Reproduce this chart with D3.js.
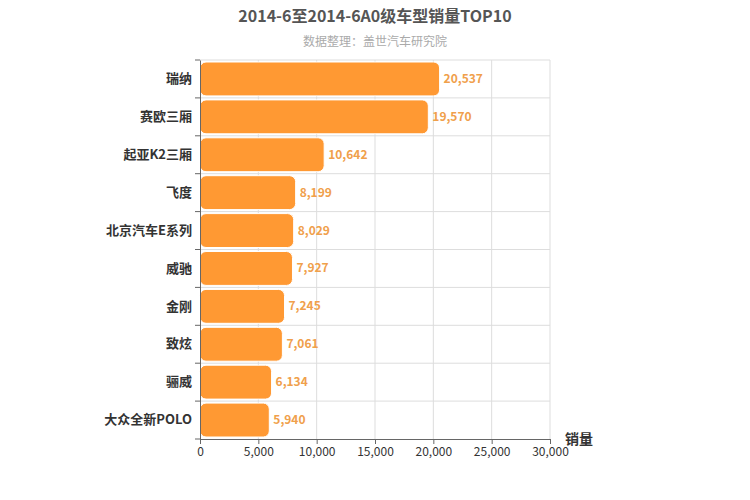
<!DOCTYPE html><html><head><meta charset="utf-8"><script src="https://d3js.org/d3.v7.min.js"></script>
<style>body{margin:0;background:#fff}text{font-family:"Noto Sans CJK SC",sans-serif}</style></head><body><svg width="750" height="500"></svg><script>
const categories=["瑞纳","赛欧三厢","起亚K2三厢","飞度","北京汽车E系列","威驰","金刚","致炫","骊威","大众全新POLO"];
const values=[20537,19570,10642,8199,8029,7927,7245,7061,6134,5940];
const ticks=[0,5000,10000,15000,20000,25000,30000];
const svg=d3.select("svg");
const L=200,R=550,T=60,B=439;
const x=d3.scaleLinear().domain([0,30000]).range([L,R]);
const y=d3.scaleBand().domain(categories).range([T,B]);
const g=svg.append("g");
// grid
g.selectAll(".vg").data(ticks.slice(1)).join("line").attr("x1",d=>x(d)).attr("x2",d=>x(d)).attr("y1",T).attr("y2",B).attr("stroke","#ddd");
g.selectAll(".hg").data(categories).join("line").attr("x1",L).attr("x2",R).attr("y1",d=>y(d)).attr("y2",d=>y(d)).attr("stroke","#ddd");
// bars
g.selectAll(".b").data(values).join("rect").attr("x",L).attr("y",(d,i)=>y(categories[i])+2).attr("height",y.bandwidth()-4).attr("width",d=>x(d)-L).attr("rx",6).attr("fill","#FF9933").attr("stroke","#fff").attr("stroke-width",1);
g.selectAll(".l").data(values).join("text").attr("x",d=>x(d)+4).attr("y",(d,i)=>y(categories[i])+y.bandwidth()/2+4).attr("fill","#F0A04B").attr("font-size",12).attr("font-weight","bold").text(d=>d3.format(",")(d));
// axes
const xa=svg.append("g").attr("transform",`translate(0,${B})`).call(d3.axisBottom(x).tickValues(ticks).tickFormat(d3.format(",")).tickSize(5));
xa.select(".domain").attr("stroke","#666");xa.selectAll("line").attr("stroke","#666");
xa.selectAll("text").attr("fill","#333").attr("font-size",12).attr("font-family","Noto Sans CJK SC,sans-serif");
const ya=svg.append("g").attr("transform",`translate(${L},0)`).call(d3.axisLeft(y).tickSize(0).tickPadding(8));
ya.select(".domain").attr("stroke","#666");
ya.selectAll("text").attr("fill","#333").attr("font-size",13).attr("font-weight","bold").attr("font-family","Noto Sans CJK SC,sans-serif");
svg.append("g").selectAll("line").data(d3.range(categories.length+1)).join("line").attr("x1",L-5).attr("x2",L).attr("y1",i=>T+i*y.step()).attr("y2",i=>T+i*y.step()).attr("stroke","#666");
svg.append("text").attr("x",375).attr("y",22).attr("text-anchor","middle").attr("font-size",16).attr("font-weight","bold").attr("fill","#555").text("2014-6至2014-6A0级车型销量TOP10");
svg.append("text").attr("x",375).attr("y",46).attr("text-anchor","middle").attr("font-size",12).attr("fill","#aaa").text("数据整理：盖世汽车研究院");
svg.append("text").attr("x",565).attr("y",444).attr("font-size",14).attr("font-weight","bold").attr("fill","#333").text("销量");
</script></body></html>
